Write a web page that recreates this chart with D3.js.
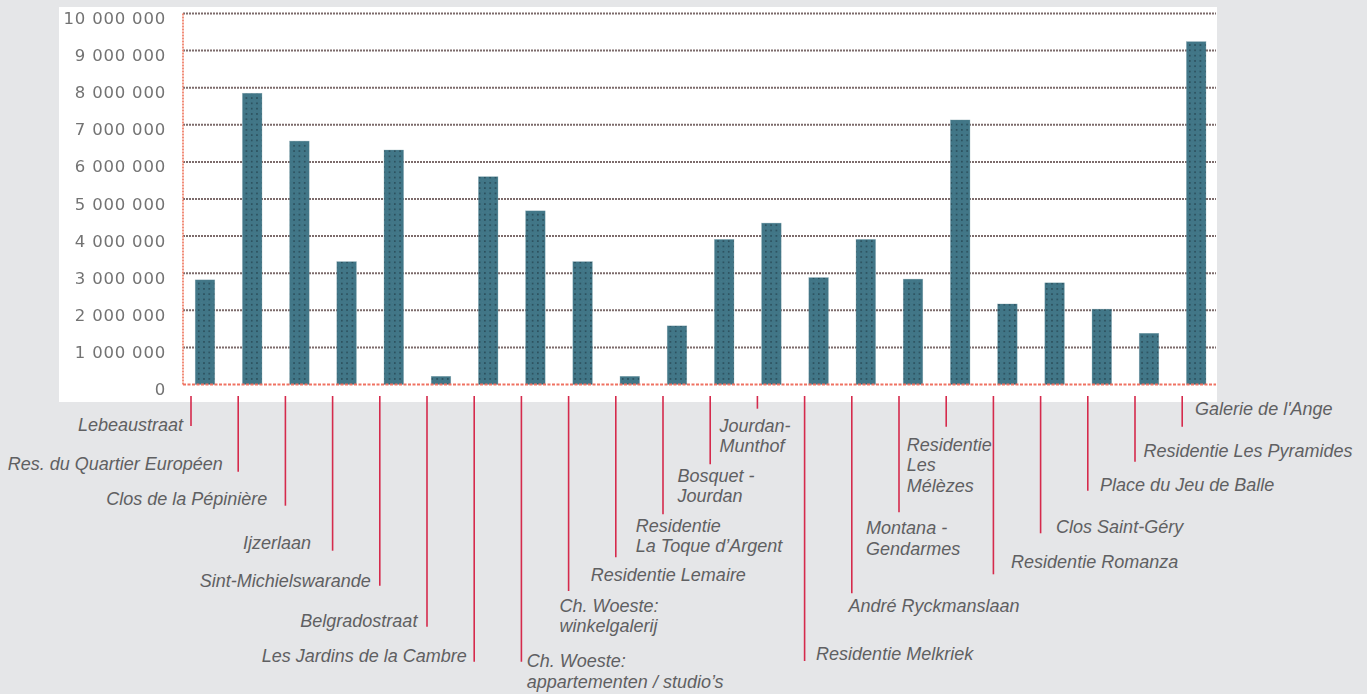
<!DOCTYPE html>
<html>
<head>
<meta charset="utf-8">
<script src="https://cdn.jsdelivr.net/npm/d3@7"></script>
<style>
  html, body { margin: 0; padding: 0; background: #e5e6e8; }
  svg { display: block; }
</style>
</head>
<body>
<svg id="chart" width="1367" height="694"></svg>
<script>
// Project names (line breaks as "\n")
const categories = [
  "Lebeaustraat",
  "Res. du Quartier Européen",
  "Clos de la Pépinière",
  "Ijzerlaan",
  "Sint-Michielswarande",
  "Belgradostraat",
  "Les Jardins de la Cambre",
  "Ch. Woeste:\nappartementen / studio’s",
  "Ch. Woeste:\nwinkelgalerij",
  "Residentie Lemaire",
  "Residentie\nLa Toque d’Argent",
  "Bosquet -\nJourdan",
  "Jourdan-\nMunthof",
  "Residentie Melkriek",
  "André Ryckmanslaan",
  "Montana -\nGendarmes",
  "Residentie\nLes\nMélèzes",
  "Residentie Romanza",
  "Clos Saint-Géry",
  "Place du Jeu de Balle",
  "Residentie Les Pyramides",
  "Galerie de l'Ange"
];

// Amount per project
const values = [
  2820000, 7850000, 6560000, 3310000, 6320000, 220000, 5600000, 4680000,
  3310000, 220000, 1580000, 3910000, 4350000, 2880000, 3910000, 2840000,
  7130000, 2170000, 2740000, 2030000, 1380000, 9240000
];

// Y axis ticks
const yTicks = [0, 1000000, 2000000, 3000000, 4000000, 5000000,
                6000000, 7000000, 8000000, 9000000, 10000000];

// Leader layout per label: [line end y, text dx, text baseline dy, anchor]
const leaderLayout = [
  [426, -8, 4.7, "end"],
  [471.7, -15.4, -1.7, "end"],
  [505.7, -18, -0.7, "end"],
  [550.7, -21.5, -1.4, "end"],
  [585.7, -9, 1.6, "end"],
  [626.7, -9.6, 0.6, "end"],
  [661.7, -7.4, 0, "end"],
  [661.7, 5.4, 5.6, "start"],
  [591, -9.2, 20.7, "start"],
  [557.3, -25, 23.4, "start"],
  [514.3, -27.2, 17.4, "start"],
  [464.3, -32.8, 17.4, "start"],
  [408.7, -38, 23, "start"],
  [661, 11.5, -1, "start"],
  [593.3, -3.4, 19, "start"],
  [512.3, -32.9, 21.7, "start"],
  [426.7, -39.4, 24, "start"],
  [574.3, 17.7, -6.6, "start"],
  [533.3, 15.5, 0, "start"],
  [490.7, 12.3, 0, "start"],
  [461.7, 8.4, -4.4, "start"],
  [426.7, 12.9, -11.7, "start"]
];

const data = categories.map((c, i) => ({ name: c, value: values[i], layout: leaderLayout[i] }));

const svg = d3.select("#chart");

// White plotting panel
svg.append("rect")
  .attr("x", 59).attr("y", 7)
  .attr("width", 1158).attr("height", 395)
  .attr("fill", "#ffffff");

// Dotted texture for the bars
const defs = svg.append("defs");
const pat = defs.append("pattern")
  .attr("id", "barTexture")
  .attr("patternUnits", "userSpaceOnUse")
  .attr("width", 5.3).attr("height", 5.3);
pat.append("rect").attr("width", 5.3).attr("height", 5.3).attr("fill", "#417687");
pat.append("circle").attr("cx", 2.6).attr("cy", 2.6).attr("r", 0.9).attr("fill", "#274854");
pat.append("circle").attr("cx", 0).attr("cy", 0).attr("r", 0.5).attr("fill", "#5d8a98");

defs.append("filter").attr("id", "soft")
  .append("feGaussianBlur").attr("stdDeviation", 0.45);

const plotLeft = 183, plotRight = 1216;

const x = d3.scaleBand()
  .domain(categories)
  .range([181.4, 1219.8])
  .paddingInner(0.587)
  .paddingOuter(0.2935);

const y = d3.scaleLinear()
  .domain([0, 10000000])
  .range([384.5, 13.5]);

const fmt = d3.formatLocale({ decimal: ",", thousands: " ", grouping: [3], currency: ["", "€"] }).format(",d");

// Horizontal gridlines
svg.append("g")
  .selectAll("line")
  .data(yTicks.filter(d => d > 0))
  .join("line")
  .attr("x1", plotLeft).attr("x2", plotRight)
  .attr("y1", d => y(d)).attr("y2", d => y(d))
  .attr("stroke", "#7c6b6b")
  .attr("stroke-width", 2)
  .attr("stroke-dasharray", "2,1");

// Y tick labels
svg.append("g")
  .attr("filter", "url(#soft)")
  .selectAll("text")
  .data(yTicks)
  .join("text")
  .attr("x", 166)
  .attr("y", d => y(d) + 5)
  .attr("text-anchor", "end")
  .attr("dominant-baseline", "central")
  .attr("font-family", "DejaVu Sans, sans-serif")
  .attr("font-size", 16.5)
  .attr("letter-spacing", 0.8)
  .attr("fill", "#737373")
  .text(d => fmt(d));

// Bars
svg.append("g")
  .selectAll("rect")
  .data(data)
  .join("rect")
  .attr("x", d => x(d.name))
  .attr("y", d => y(d.value))
  .attr("width", x.bandwidth())
  .attr("height", d => y(0) - y(d.value))
  .attr("fill", "url(#barTexture)")
  .attr("stroke", "#6f97a3")
  .attr("stroke-width", 0.6)
  .attr("stroke-opacity", 0.5);

// Left axis line and baseline
svg.append("line")
  .attr("x1", plotLeft).attr("x2", plotLeft)
  .attr("y1", y(10000000)).attr("y2", y(0))
  .attr("stroke", "#f0826c")
  .attr("stroke-width", 1.8)
  .attr("stroke-dasharray", "2,1");

svg.append("line")
  .attr("x1", plotLeft).attr("x2", plotRight)
  .attr("y1", y(0)).attr("y2", y(0))
  .attr("stroke", "#f07262")
  .attr("stroke-width", 1.8)
  .attr("stroke-dasharray", "3,1.5");

// Leader lines and project names; each leader sits just left of its bar
const leaders = svg.append("g");
const lineX = d => x(d.name) + x.bandwidth() / 2 - 14;

leaders.selectAll("line")
  .data(data)
  .join("line")
  .attr("x1", lineX).attr("x2", lineX)
  .attr("y1", 396)
  .attr("y2", d => d.layout[0])
  .attr("stroke", "#d52a4c")
  .attr("stroke-width", 1.6);

const labels = leaders.selectAll("text")
  .data(data)
  .join("text")
  .attr("x", d => lineX(d) + d.layout[1])
  .attr("y", d => d.layout[0] + d.layout[2])
  .attr("text-anchor", d => d.layout[3])
  .attr("font-family", "Liberation Sans, Arial, sans-serif")
  .attr("font-style", "italic")
  .attr("font-size", 18)
  .attr("fill", "#5f6062");

labels.selectAll("tspan")
  .data(d => d.name.split("\n").map(t => ({ t, d })))
  .join("tspan")
  .attr("x", p => lineX(p.d) + p.d.layout[1])
  .attr("dy", (p, i) => i === 0 ? 0 : 20.5)
  .text(p => p.t);
</script>
</body>
</html>
